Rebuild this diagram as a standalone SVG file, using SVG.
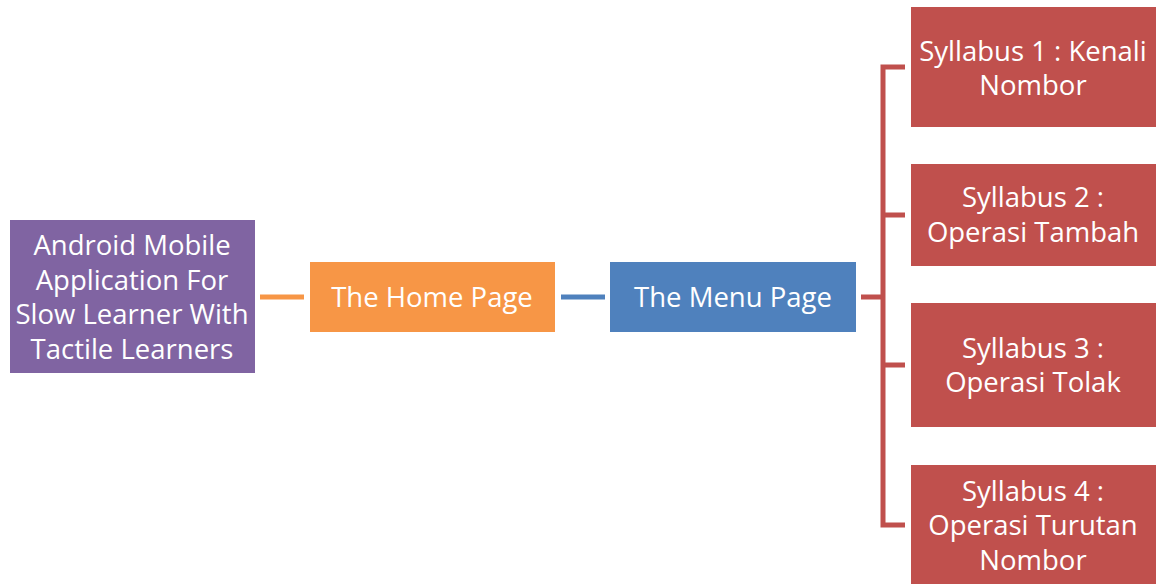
<svg xmlns="http://www.w3.org/2000/svg" width="1163" height="584" viewBox="0 0 1163 584">
<style>
.t{font-family:"Open Sans","Noto Sans","Liberation Sans",sans-serif;font-size:27.5px;fill:#fff;text-anchor:middle}
.c{fill:none;stroke-width:5}
</style>
<rect width="1163" height="584" fill="#fff"/>
<g id="connectors">
<line class="c" x1="260" y1="297" x2="304" y2="297" stroke="#F79646"/>
<line class="c" x1="561" y1="297" x2="605" y2="297" stroke="#4F81BD"/>
<path class="c" stroke="#C0504D" d="M861 297H883M905 67H883V525H905M883 215H905M883 365H905"/>
</g>
<g id="root">
<rect x="10" y="220" width="245" height="153" fill="#8064A2"/>
<text class="t" x="132" y="255">Android Mobile</text>
<text class="t" x="132" y="290">Application For</text>
<text class="t" x="132" y="324">Slow Learner With</text>
<text class="t" x="132" y="359">Tactile Learners</text>
</g>
<g id="home">
<rect x="310" y="262" width="245" height="70" fill="#F79646"/>
<text class="t" x="432" y="307">The Home Page</text>
</g>
<g id="menu">
<rect x="610" y="262" width="246" height="70" fill="#4F81BD"/>
<text class="t" x="733" y="307">The Menu Page</text>
</g>
<g id="s1">
<rect x="911" y="7" width="245" height="120" fill="#C0504D"/>
<text class="t" x="1033" y="61">Syllabus 1 : Kenali</text>
<text class="t" x="1033" y="95">Nombor</text>
</g>
<g id="s2">
<rect x="911" y="164" width="245" height="102" fill="#C0504D"/>
<text class="t" x="1033" y="207">Syllabus 2 :</text>
<text class="t" x="1033" y="242">Operasi Tambah</text>
</g>
<g id="s3">
<rect x="911" y="303" width="245" height="124" fill="#C0504D"/>
<text class="t" x="1033" y="358">Syllabus 3 :</text>
<text class="t" x="1033" y="392">Operasi Tolak</text>
</g>
<g id="s4">
<rect x="911" y="465" width="245" height="125" fill="#C0504D"/>
<text class="t" x="1033" y="501">Syllabus 4 :</text>
<text class="t" x="1033" y="535">Operasi Turutan</text>
<text class="t" x="1033" y="570">Nombor</text>
</g>
</svg>
